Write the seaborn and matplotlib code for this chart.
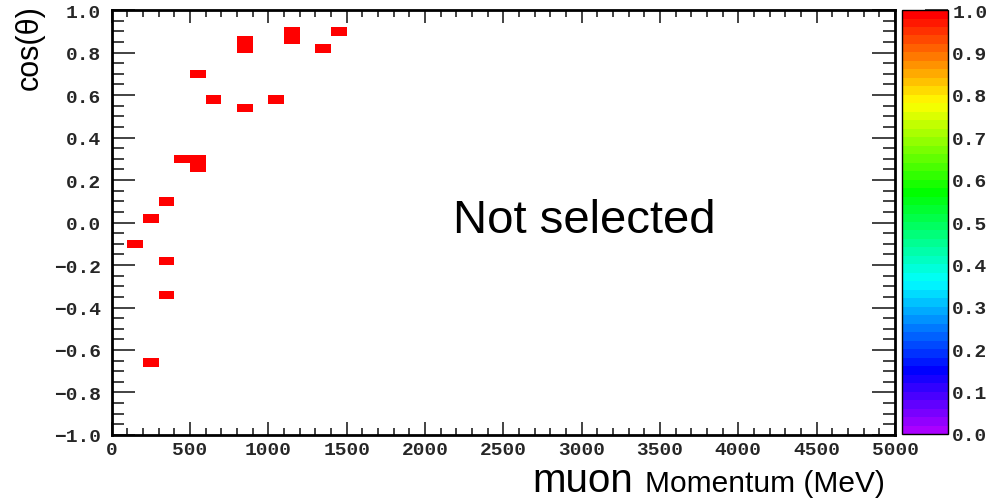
import colorsys

import numpy as np
import matplotlib
matplotlib.use("Agg")
import matplotlib.pyplot as plt
from matplotlib.colors import ListedColormap
from matplotlib.ticker import MultipleLocator
import seaborn as sns

# Selected events: muon momentum (MeV) and cos(theta), one entry per filled bin
momentum = [150, 250, 350, 450, 550, 550, 550, 650, 850, 850, 850,
            1050, 1150, 1150, 1350, 1450, 350, 350, 250]
cos_theta = [-0.10, 0.02, 0.10, 0.30, 0.30, 0.26, 0.70, 0.58, 0.82, 0.86, 0.54,
             0.58, 0.86, 0.90, 0.82, 0.90, -0.18, -0.34, -0.66]

# Histogram binning
x_edges = np.linspace(0, 5000, 51)
y_edges = np.linspace(-1.0, 1.0, 51)

x_ticks = np.arange(0, 5001, 500)
y_ticks = np.round(np.arange(-1.0, 1.01, 0.2), 1) + 0.0
z_ticks = np.round(np.arange(0.0, 1.01, 0.1), 1)

annotation = "Not selected"

# 50-step violet -> red "pretty" palette
hues = np.linspace(280, 0, 50) / 360.0
palette = ListedColormap([colorsys.hls_to_rgb(h, 0.5, 1.0) for h in hues])

sns.set_style("white")
plt.rcParams["font.family"] = ["Liberation Sans", "DejaVu Sans"]

fig = plt.figure(figsize=(9.95, 5.02), dpi=100)
ax = fig.add_axes([0.1123, 0.1315, 0.7872, 0.8465])
cax = fig.add_axes([0.9065, 0.1335, 0.0463, 0.8445])

sns.histplot(x=momentum, y=cos_theta, bins=[x_edges, y_edges], cmap=palette,
             vmin=0, vmax=1, cbar=True, cbar_ax=cax, ax=ax)
for coll in ax.collections:
    coll.set_clim(0, 1)

ax.set_xlim(0, 5000)
ax.set_ylim(-1, 1)

tick_font = dict(family="Liberation Mono", weight="bold", size=14)


def fmt_y(v):
    if abs(v) < 1e-9:
        v = 0.0
    return f"{v:.1f}".replace("-", "\u2212")


ax.set_xticks(x_ticks)
ax.set_yticks(y_ticks)
ax.xaxis.set_minor_locator(MultipleLocator(100))
ax.yaxis.set_minor_locator(MultipleLocator(0.05))
ax.set_xticklabels([f"{v:d}" for v in x_ticks], **tick_font)
ax.set_yticklabels([fmt_y(v) for v in y_ticks], **tick_font)

ax.tick_params(axis="x", which="major", direction="in", length=9.4, width=1.2,
               top=True, bottom=True, pad=4, color="#222222")
ax.tick_params(axis="x", which="minor", direction="in", length=5, width=1.2,
               top=True, bottom=True, color="#222222")
ax.tick_params(axis="y", which="major", direction="in", length=16.5, width=1.2,
               left=True, right=True, pad=8, color="#222222")
ax.tick_params(axis="y", which="minor", direction="in", length=8.6, width=1.2,
               left=True, right=True, color="#222222")

for spine in ax.spines.values():
    spine.set_visible(True)
    spine.set_color("black")
    spine.set_linewidth(2)

ax.set_xlabel("")
ax.set_ylabel("")

# Colour scale
cax.set_yticks(z_ticks)
cax.set_yticklabels([f"{v:.1f}" for v in z_ticks], **tick_font)
cax.tick_params(axis="y", which="major", direction="in", length=16.5, width=1.2,
                right=True, left=False, pad=3, color="#222222")
cax.minorticks_off()
for spine in cax.spines.values():
    spine.set_color("black")
    spine.set_linewidth(1)

# Axis titles
fig.text(0.030, 0.905, "cos(\u03b8)", rotation=90, ha="center", va="center",
         fontsize=22, color="black")
fig.text(885 / 995, 1 - 492 / 502, "Momentum (MeV)", ha="right", va="baseline",
         fontsize=21.5, color="black")
fig.text(633 / 995, 1 - 492 / 502, "muon", ha="right", va="baseline",
         fontsize=29, color="black")

ax.text(0.603, 0.507, annotation, transform=ax.transAxes, ha="center",
        va="center", fontsize=34, color="black")

fig.savefig("out.png", dpi=100)
